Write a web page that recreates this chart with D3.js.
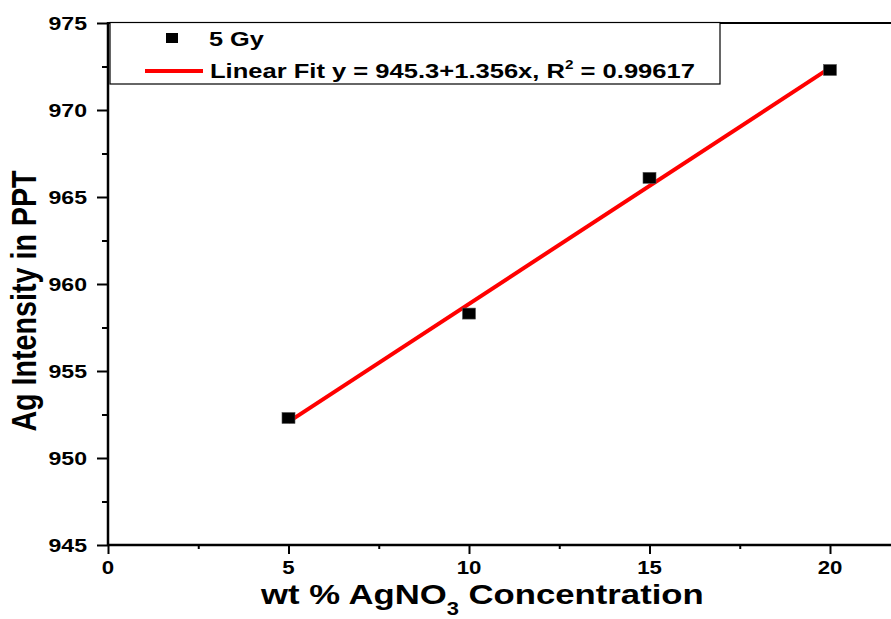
<!DOCTYPE html>
<html><head><meta charset="utf-8">
<script src="https://cdn.jsdelivr.net/npm/d3@7"></script>
<style>
body{margin:0;background:#fff;overflow:hidden}
text{font-family:"Liberation Sans",Arial,Helvetica,sans-serif;font-weight:bold;fill:#000}
</style></head>
<body><svg id="c" width="891" height="619"></svg>
<script>
// ---- data ----
const concentrations = [5, 10, 15, 20];
const intensities = [952.3, 958.3, 966.1, 972.3];
const fitIntercept = 945.3;
const fitSlope = 1.356;
const fitRange = [5, 20];
const xTicks = [0, 5, 10, 15, 20];
const xMinorTicks = [2.5, 7.5, 12.5, 17.5];
const yTicks = [945, 950, 955, 960, 965, 970, 975];
const yMinorTicks = [947.5, 952.5, 957.5, 962.5, 967.5, 972.5];
const seriesName = "5 Gy";
const xTitle = ["wt % AgNO", "3", " Concentration"];
const yTitle = "Ag Intensity in PPT";

// ---- setup ----
const W = 891, H = 619;
const svg = d3.select("#c");
const x = d3.scaleLinear().domain([0, 20]).range([108, 830]);
const y = d3.scaleLinear().domain([945, 975]).range([545, 23]);

// top frame line
svg.append("line").attr("x1", x(0)).attr("x2", W).attr("y1", y(975)).attr("y2", y(975))
  .attr("stroke", "#000").attr("stroke-width", 2);

// axes ticks
const gx = svg.append("g").attr("transform", `translate(0,${y(945)})`)
  .call(d3.axisBottom(x).tickValues(xTicks).tickSize(9).tickFormat(""));
const gxm = svg.append("g").attr("transform", `translate(0,${y(945)})`)
  .call(d3.axisBottom(x).tickValues(xMinorTicks).tickSize(4).tickFormat(""));
const gy = svg.append("g").attr("transform", `translate(${x(0)},0)`)
  .call(d3.axisLeft(y).tickValues(yTicks).tickSize(11).tickFormat(""));
const gym = svg.append("g").attr("transform", `translate(${x(0)},0)`)
  .call(d3.axisLeft(y).tickValues(yMinorTicks).tickSize(6).tickFormat(""));
[gx, gxm, gy, gym].forEach(g => {
  g.select(".domain").remove();
  g.selectAll("line").attr("stroke", "#000").attr("stroke-width", 2);
});
// axis lines
svg.append("line").attr("x1", x(0)).attr("x2", W).attr("y1", y(945)).attr("y2", y(945))
  .attr("stroke", "#000").attr("stroke-width", 2.5);
svg.append("line").attr("x1", x(0)).attr("x2", x(0)).attr("y1", y(975) - 1).attr("y2", y(945) + 1)
  .attr("stroke", "#000").attr("stroke-width", 2.5);

// tick labels
const TS = 1.27;
yTicks.forEach(v => {
  svg.append("text").attr("text-anchor", "end").attr("font-size", 17.5)
    .attr("transform", `translate(87,${y(v) + 6.5}) scale(${TS + 0.05},1)`).text(v);
});
xTicks.forEach(v => {
  svg.append("text").attr("text-anchor", "middle").attr("font-size", 17.5)
    .attr("transform", `translate(${x(v)},${574}) scale(${TS},1)`).text(v);
});

// x title
const xt = svg.append("text").attr("font-size", 28.5);
xt.append("tspan").text(xTitle[0]);
xt.append("tspan").attr("font-size", 18).attr("dy", 11).text(xTitle[1]);
xt.append("tspan").attr("dy", -11).text(xTitle[2]);
{
  const w = xt.node().getBBox().width;
  xt.attr("transform", `translate(261,604) scale(${444 / w},1)`);
}
// y title
const yt = svg.append("text").attr("font-size", 28.5).attr("text-anchor", "middle").text(yTitle);
{
  const w = yt.node().getBBox().width;
  const s = 262 / w;
  yt.attr("transform", `translate(36,301) scale(1.2,${s}) rotate(-90)`);
}

// fit line
const fitLine = d3.line().x(d => x(d)).y(d => y(fitIntercept + fitSlope * d));
svg.append("path").datum(fitRange).attr("d", fitLine)
  .attr("stroke", "#ff0000").attr("stroke-width", 4).attr("fill", "none");

// points
svg.selectAll("rect.pt").data(concentrations).enter().append("rect").attr("class", "pt")
  .attr("x", d => x(d) - 6.5).attr("y", (d, i) => y(intensities[i]) - 5.5)
  .attr("width", 13).attr("height", 11).attr("fill", "#000")
  .attr("stroke", "#555").attr("stroke-width", 0.6);

// legend
svg.append("rect").attr("x", 110).attr("y", 22.5).attr("width", 610).attr("height", 61.5)
  .attr("fill", "#fff").attr("stroke", "#000").attr("stroke-width", 1.2);
svg.append("rect").attr("x", 166).attr("y", 33).attr("width", 12).attr("height", 10).attr("fill", "#000");
svg.append("line").attr("x1", 145).attr("x2", 203).attr("y1", 71).attr("y2", 71)
  .attr("stroke", "#ff0000").attr("stroke-width", 4);
const l1 = svg.append("text").attr("font-size", 20).text(seriesName);
{
  const w = l1.node().getBBox().width;
  l1.attr("transform", `translate(209,46) scale(${56 / w},1)`);
}
const l2 = svg.append("text").attr("font-size", 20);
l2.append("tspan").text(`Linear Fit y = ${fitIntercept}+${fitSlope}x, R`);
l2.append("tspan").attr("font-size", 12).attr("dy", -9).text("2");
l2.append("tspan").attr("dy", 9).text(" = 0.99617");
{
  const w = l2.node().getBBox().width;
  l2.attr("transform", `translate(210,78) scale(${485 / w},1)`);
}
</script></body></html>
